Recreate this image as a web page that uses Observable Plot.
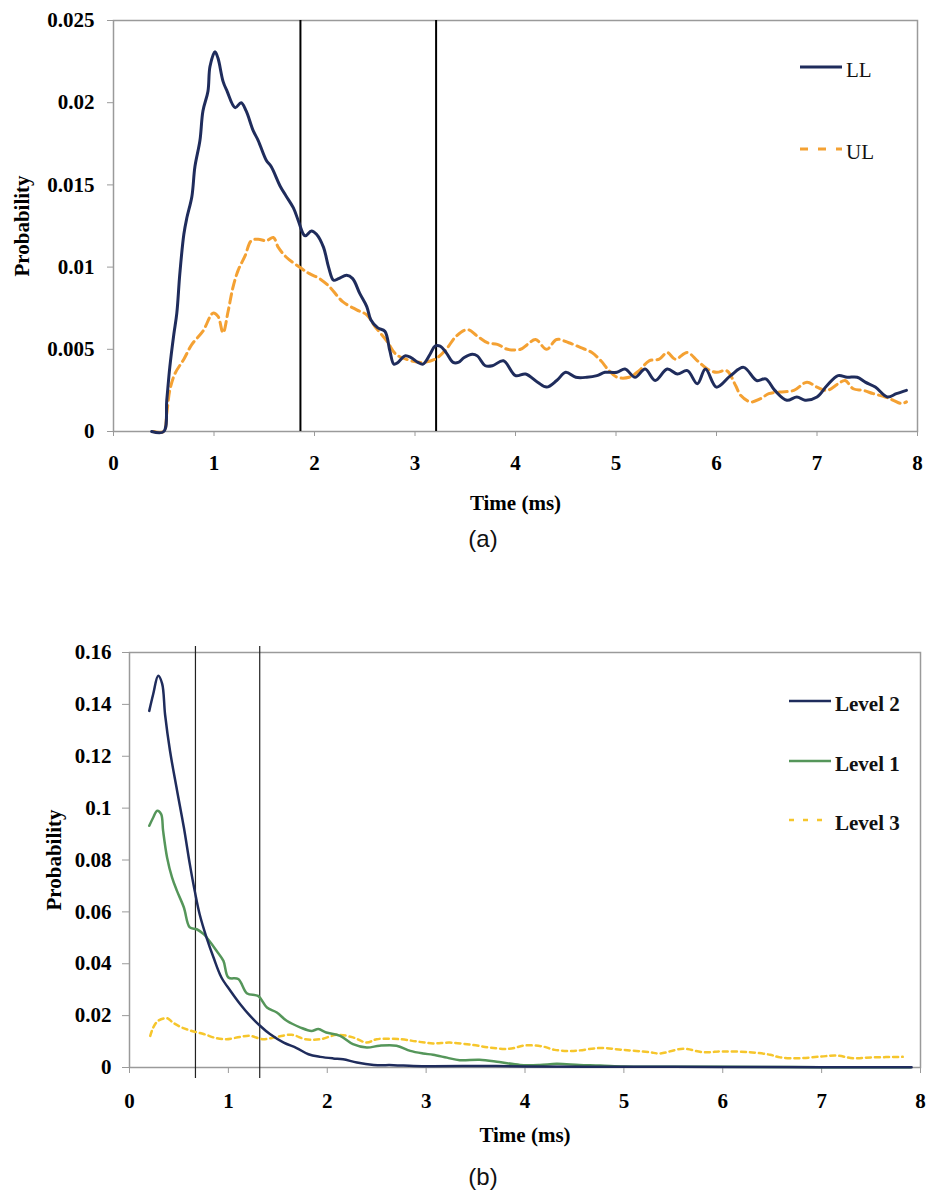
<!DOCTYPE html>
<html>
<head>
<meta charset="utf-8">
<script src="https://cdn.jsdelivr.net/npm/d3@7"></script>
<script src="https://cdn.jsdelivr.net/npm/@observablehq/plot@0.6"></script>
<style>
  html, body { margin: 0; padding: 0; background: white; }
  #root { position: relative; width: 945px; height: 1200px; overflow: hidden; background: white; }
  .abs { position: absolute; }
  .panel-label { position: absolute; left: 0; width: 966px; text-align: center; font-family: "Liberation Sans", Arial, sans-serif; font-size: 24px; line-height: 24px; color: #111; }
  .leg { position: absolute; display: flex; align-items: center; font-family: "Liberation Serif", "Times New Roman", serif; font-size: 21px; color: #111; white-space: nowrap; }
</style>
</head>
<body>
<div id="root"></div>
<script>
// ---------- DATA ----------
const xTicks = [0, 1, 2, 3, 4, 5, 6, 7, 8];
const yTicksTop = [0, 0.005, 0.01, 0.015, 0.02, 0.025];
const yTicksBottom = [0, 0.02, 0.04, 0.06, 0.08, 0.1, 0.12, 0.14, 0.16];
const xLabel = "Time (ms)";
const yLabel = "Probability";
const seriesTop = ["LL", "UL"];
const seriesBottom = ["Level 2", "Level 1", "Level 3"];
const vlinesTop = [1.86, 3.21];
const vlinesBottom = [0.667, 1.317];

// (a) LL : [time ms, probability]
const LL = [[0.38,0],[0.50,0],[0.53,0.0019],[0.56,0.0039],[0.60,0.0059],[0.63,0.0072],[0.66,0.0096],[0.70,0.0120],[0.73,0.0130],[0.78,0.0143],[0.81,0.0161],[0.86,0.0177],[0.89,0.0195],[0.94,0.0207],[0.96,0.0222],[1.01,0.0231],[1.04,0.0227],[1.09,0.0213],[1.13,0.0207],[1.21,0.0197],[1.27,0.0200],[1.32,0.0195],[1.39,0.0183],[1.44,0.0177],[1.52,0.0165],[1.57,0.0161],[1.66,0.0149],[1.72,0.0143],[1.79,0.0136],[1.84,0.0128],[1.89,0.0120],[1.91,0.0119],[1.97,0.0122],[2.02,0.0120],[2.09,0.0112],[2.14,0.0100],[2.19,0.0092],[2.24,0.0093],[2.32,0.0095],[2.38,0.0093],[2.45,0.0084],[2.52,0.0076],[2.56,0.0068],[2.63,0.0063],[2.70,0.0061],[2.75,0.0049],[2.79,0.0041],[2.83,0.0042],[2.90,0.0046],[2.96,0.0045],[3.03,0.0042],[3.08,0.0041],[3.15,0.0047],[3.20,0.0052],[3.25,0.0052],[3.31,0.0048],[3.38,0.0042],[3.43,0.0042],[3.49,0.0045],[3.57,0.0047],[3.62,0.0046],[3.70,0.0040],[3.77,0.0040],[3.88,0.0043],[4.00,0.0034],[4.10,0.0035],[4.22,0.0030],[4.31,0.0027],[4.41,0.0031],[4.50,0.0036],[4.60,0.0033],[4.71,0.0033],[4.81,0.0034],[4.89,0.0036],[5.01,0.0036],[5.09,0.0038],[5.19,0.0033],[5.29,0.0038],[5.39,0.0031],[5.51,0.0038],[5.61,0.0035],[5.71,0.0037],[5.81,0.0029],[5.89,0.0038],[6.00,0.0027],[6.14,0.0034],[6.27,0.0039],[6.40,0.0031],[6.49,0.0032],[6.58,0.0025],[6.70,0.0019],[6.80,0.0021],[6.88,0.0019],[7.00,0.0021],[7.10,0.0028],[7.21,0.0034],[7.30,0.0033],[7.40,0.0033],[7.48,0.0030],[7.58,0.0027],[7.70,0.0021],[7.79,0.0023],[7.89,0.0025]];

// (a) UL
const UL = [[0.40,0],[0.50,0],[0.53,0.0011],[0.56,0.0025],[0.61,0.0035],[0.70,0.0044],[0.78,0.0053],[0.89,0.0061],[0.99,0.0072],[1.04,0.0070],[1.09,0.0060],[1.14,0.0073],[1.19,0.0088],[1.24,0.0098],[1.31,0.0107],[1.37,0.0116],[1.44,0.0117],[1.52,0.0116],[1.59,0.0118],[1.64,0.0112],[1.72,0.0106],[1.85,0.0100],[1.95,0.0096],[2.05,0.0093],[2.15,0.0088],[2.28,0.0079],[2.42,0.0074],[2.52,0.0071],[2.60,0.0064],[2.72,0.0055],[2.81,0.0047],[2.91,0.0044],[3.06,0.0042],[3.20,0.0044],[3.31,0.0050],[3.41,0.0058],[3.52,0.0062],[3.62,0.0058],[3.72,0.0054],[3.82,0.0053],[3.92,0.0050],[4.05,0.0050],[4.12,0.0053],[4.20,0.0056],[4.31,0.0050],[4.41,0.0056],[4.53,0.0054],[4.65,0.0051],[4.76,0.0048],[4.85,0.0043],[4.93,0.0037],[5.01,0.0033],[5.13,0.0033],[5.23,0.0037],[5.33,0.0043],[5.43,0.0044],[5.51,0.0048],[5.59,0.0044],[5.71,0.0048],[5.81,0.0043],[5.91,0.0038],[6.00,0.0036],[6.10,0.0037],[6.19,0.0028],[6.24,0.0022],[6.34,0.0018],[6.44,0.0020],[6.52,0.0023],[6.63,0.0024],[6.77,0.0025],[6.90,0.0030],[7.00,0.0027],[7.10,0.0025],[7.21,0.0029],[7.28,0.0031],[7.36,0.0026],[7.46,0.0025],[7.56,0.0023],[7.68,0.0021],[7.76,0.0019],[7.84,0.0017],[7.89,0.0018]];

// (b) Level 2
const L2 = [[0.20,0.1375],[0.24,0.144],[0.29,0.151],[0.33,0.148],[0.36,0.136],[0.41,0.122],[0.48,0.107],[0.55,0.0925],[0.61,0.0784],[0.66,0.068],[0.71,0.059],[0.78,0.050],[0.85,0.0424],[0.93,0.0347],[1.02,0.0296],[1.12,0.0244],[1.22,0.0199],[1.32,0.0161],[1.42,0.0129],[1.56,0.0096],[1.69,0.0075],[1.81,0.0051],[1.93,0.0041],[2.06,0.0035],[2.16,0.0032],[2.30,0.0019],[2.47,0.0010],[2.67,0.0009],[2.87,0.0006],[3.07,0.0005],[3.55,0.0006],[4.0,0.0004],[5.0,0.0003],[6.0,0.0002],[7.0,0.0001],[7.91,0.0001]];

// (b) Level 1
const L1 = [[0.20,0.0932],[0.24,0.0964],[0.28,0.099],[0.32,0.0977],[0.34,0.0912],[0.38,0.081],[0.43,0.0733],[0.48,0.0681],[0.55,0.0617],[0.61,0.054],[0.68,0.0533],[0.75,0.0514],[0.82,0.0482],[0.88,0.045],[0.95,0.0411],[1.00,0.0347],[1.10,0.0341],[1.19,0.0285],[1.30,0.0276],[1.39,0.0231],[1.49,0.0212],[1.59,0.018],[1.73,0.0154],[1.84,0.0141],[1.91,0.0148],[1.99,0.0135],[2.13,0.0122],[2.26,0.009],[2.40,0.0077],[2.53,0.0084],[2.70,0.0084],[2.84,0.0064],[2.97,0.0054],[3.07,0.0049],[3.21,0.0038],[3.34,0.0028],[3.54,0.0030],[3.74,0.0021],[3.95,0.0010],[4.15,0.0010],[4.32,0.0014],[4.55,0.0010],[4.76,0.0008],[5.0,0.0004],[5.33,0.0003],[5.97,0.0003],[6.5,0.0002],[7.0,0.0001],[7.9,0.0001]];

// (b) Level 3
const L3 = [[0.21,0.0122],[0.24,0.0154],[0.29,0.018],[0.38,0.019],[0.44,0.0173],[0.53,0.0154],[0.63,0.0141],[0.75,0.0129],[0.88,0.0113],[0.98,0.0109],[1.12,0.0118],[1.22,0.0122],[1.35,0.0109],[1.49,0.0118],[1.64,0.0126],[1.78,0.0109],[1.93,0.0109],[2.10,0.0126],[2.26,0.0116],[2.40,0.0096],[2.50,0.0109],[2.74,0.0109],[2.91,0.0100],[3.07,0.0093],[3.24,0.0096],[3.47,0.0087],[3.64,0.0077],[3.84,0.0072],[4.00,0.0085],[4.18,0.0081],[4.30,0.0068],[4.49,0.0064],[4.76,0.0075],[4.99,0.0068],[5.26,0.0059],[5.36,0.0054],[5.60,0.0072],[5.80,0.0059],[6.00,0.0062],[6.27,0.0059],[6.48,0.0049],[6.58,0.0039],[6.78,0.0036],[6.99,0.0042],[7.15,0.0046],[7.32,0.0036],[7.52,0.0039],[7.82,0.0041]];

// ---------- STYLES ----------
const NAVY = "#1f2c5c";
const ORANGE = "#f4a133";
const GREEN = "#55965a";
const YELLOW = "#f6c62c";
const GRAY = "#9a9a9a";
const serif = "'Liberation Serif', 'Times New Roman', serif";

const root = document.getElementById("root");
const fmt = d => String(d);
const X = d => d[0], Y = d => d[1];

function placeSvg(svg, top) {
  svg.classList.add("abs");
  svg.style.left = "0px";
  svg.style.top = top + "px";
  root.appendChild(svg);
}

// ---------- (a) ----------
const plotA = Plot.plot({
  width: 945, height: 520,
  marginLeft: 113, marginRight: 28, marginTop: 20, marginBottom: 89,
  x: {domain: [0, 8]},
  y: {domain: [0, 0.025]},
  style: {fontFamily: serif, fontSize: "21px", fontWeight: "bold", background: "white", color: "black", overflow: "visible"},
  marks: [
    Plot.frame({stroke: GRAY, strokeWidth: 1.5}),
    Plot.axisX({ticks: xTicks, tickFormat: fmt, tickSize: 5, tickPadding: 19, stroke: GRAY, fill: "black", label: null}),
    Plot.axisY({ticks: yTicksTop, tickFormat: fmt, tickSize: 6, tickPadding: 13, stroke: GRAY, fill: "black", label: null}),
    Plot.ruleX(vlinesTop, {stroke: "black", strokeWidth: 2}),
    Plot.line(UL, {x: X, y: Y, stroke: ORANGE, strokeWidth: 3, strokeDasharray: "9,5", curve: "catmull-rom"}),
    Plot.line(LL, {x: X, y: Y, stroke: NAVY, strokeWidth: 3, curve: "catmull-rom"}),
    Plot.text([xLabel], {frameAnchor: "bottom", lineAnchor: "middle", textAnchor: "middle", dy: 72, fill: "black"}),
    Plot.text([yLabel], {frameAnchor: "left", lineAnchor: "middle", textAnchor: "middle", dx: -91, rotate: -90, fill: "black"})
  ]
});
placeSvg(plotA, 0);

// ---------- (b) ----------
const plotB = Plot.plot({
  width: 945, height: 560,
  marginLeft: 129, marginRight: 25, marginTop: 32, marginBottom: 113,
  x: {domain: [0, 8]},
  y: {domain: [0, 0.16]},
  style: {fontFamily: serif, fontSize: "21px", fontWeight: "bold", background: "white", color: "black", overflow: "visible"},
  marks: [
    Plot.frame({stroke: GRAY, strokeWidth: 1.5}),
    Plot.axisX({ticks: xTicks, tickFormat: fmt, tickSize: 6, tickPadding: 20, stroke: GRAY, fill: "black", label: null}),
    Plot.axisY({ticks: yTicksBottom, tickFormat: fmt, tickSize: 7, tickPadding: 11, stroke: GRAY, fill: "black", label: null}),
    Plot.ruleX(vlinesBottom, {stroke: "#222", strokeWidth: 1.2, insetTop: -6, insetBottom: -11}),
    Plot.line(L3, {x: X, y: Y, stroke: YELLOW, strokeWidth: 2.5, strokeDasharray: "5,4", curve: "catmull-rom"}),
    Plot.line(L1, {x: X, y: Y, stroke: GREEN, strokeWidth: 2.5, curve: "catmull-rom"}),
    Plot.line(L2, {x: X, y: Y, stroke: NAVY, strokeWidth: 2.5, curve: "catmull-rom"}),
    Plot.text([xLabel], {frameAnchor: "bottom", lineAnchor: "middle", textAnchor: "middle", dy: 68, fill: "black"}),
    Plot.text([yLabel], {frameAnchor: "left", lineAnchor: "middle", textAnchor: "middle", dx: -75, rotate: -90, fill: "black"})
  ]
});
placeSvg(plotB, 620);

// ---------- legends (HTML overlay) ----------
function legendItem(name, left, lineY, color, width, dash, bold) {
  const div = document.createElement("div");
  div.className = "leg";
  div.style.left = left + "px";
  div.style.top = (lineY - 14) + "px";
  div.style.height = "28px";
  div.style.fontWeight = bold ? "bold" : "normal";
  const ns = "http://www.w3.org/2000/svg";
  const s = document.createElementNS(ns, "svg");
  s.setAttribute("width", 42); s.setAttribute("height", 28);
  s.style.display = "block";
  const ln = document.createElementNS(ns, "line");
  ln.setAttribute("x1", 0); ln.setAttribute("x2", 42);
  ln.setAttribute("y1", 14); ln.setAttribute("y2", 14);
  ln.setAttribute("stroke", color);
  ln.setAttribute("stroke-width", width);
  if (dash) ln.setAttribute("stroke-dasharray", dash);
  s.appendChild(ln);
  const sp = document.createElement("span");
  sp.textContent = name;
  sp.style.marginLeft = "4px";
  sp.style.position = "relative";
  sp.style.top = "3px";
  div.appendChild(s); div.appendChild(sp);
  root.appendChild(div);
}
legendItem(seriesTop[0], 800, 67, NAVY, 3, null, false);
legendItem(seriesTop[1], 800, 149, ORANGE, 3, "8,10", false);
legendItem(seriesBottom[0], 789, 701, NAVY, 2.5, null, true);
legendItem(seriesBottom[1], 789, 761, GREEN, 2.5, null, true);
legendItem(seriesBottom[2], 789, 820, YELLOW, 2.5, "5,9", true);

// ---------- panel labels ----------
const la = document.createElement("div");
la.className = "panel-label"; la.style.top = "527px"; la.textContent = "(a)";
root.appendChild(la);
const lb = document.createElement("div");
lb.className = "panel-label"; lb.style.top = "1165px"; lb.textContent = "(b)";
root.appendChild(lb);
</script>
</body>
</html>
